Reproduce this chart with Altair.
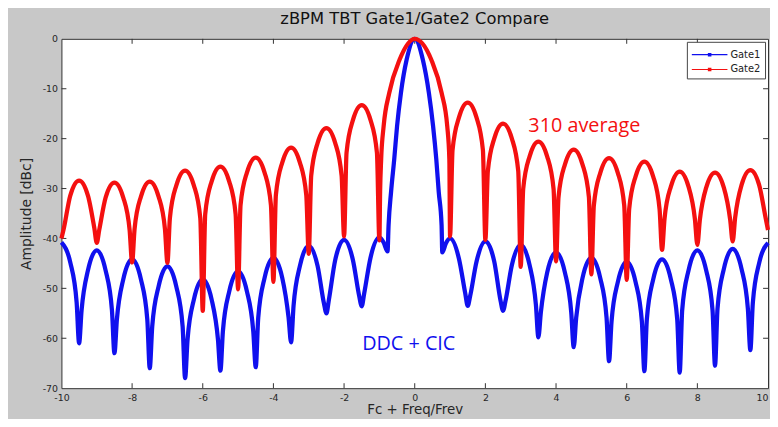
import altair as alt
import pandas as pd

# ---------------- data ----------------
gate2_x = [-10, -9.93, -9.75, -9.5, -9.25, -9.07,
           -9, -8.93, -8.75, -8.5, -8.25, -8.07,
           -8, -7.93, -7.75, -7.5, -7.25, -7.07,
           -7, -6.93, -6.75, -6.5, -6.25, -6.07,
           -6, -5.93, -5.75, -5.5, -5.25, -5.07,
           -5, -4.93, -4.75, -4.5, -4.25, -4.07,
           -4, -3.93, -3.75, -3.5, -3.25, -3.07,
           -3, -2.93, -2.75, -2.5, -2.25, -2.07,
           -2, -1.93, -1.75, -1.5, -1.25, -1.07,
           -1, -0.98, -0.95, -0.88, -0.72, -0.43, 0, 0.47, 0.76, 0.92, 0.98,
           1, 1.07, 1.25, 1.5, 1.75, 1.93,
           2, 2.07, 2.25, 2.5, 2.75, 2.93,
           3, 3.07, 3.25, 3.5, 3.75, 3.93,
           4, 4.07, 4.25, 4.5, 4.75, 4.93,
           5, 5.07, 5.25, 5.5, 5.75, 5.93,
           6, 6.07, 6.25, 6.5, 6.75, 6.93,
           7, 7.07, 7.25, 7.5, 7.75, 7.93,
           8, 8.07, 8.25, 8.5, 8.75, 8.93,
           9, 9.07, 9.25, 9.5, 9.75, 9.93,
           10]
gate2_y = [-40.0, -37.9, -31.4, -28.4, -31.4, -37.9,
           -40.9, -38.3, -31.8, -28.8, -31.8, -38.3,
           -44.8, -38.1, -31.6, -28.6, -31.6, -38.1,
           -44.9, -35.9, -29.4, -26.4, -29.4, -35.9,
           -54.5, -35.1, -28.6, -25.6, -28.6, -35.1,
           -50.2, -33.3, -26.8, -23.8, -26.8, -33.3,
           -48.7, -31.3, -24.8, -21.8, -24.8, -31.3,
           -43.1, -27.4, -20.9, -17.9, -20.9, -27.4,
           -39.6, -22.8, -16.3, -13.3, -16.3, -22.8,
           -40.4, -30.7, -24.1, -17.5, -10.8, -4.2, 0.0, -4.2, -10.8, -17.5, -24.1,
           -39.6, -22.3, -15.8, -12.8, -15.8, -22.3,
           -40.3, -26.5, -20.0, -17.0, -20.0, -26.5,
           -45.7, -30.1, -23.6, -20.6, -23.6, -30.1,
           -44.6, -31.7, -25.2, -22.2, -25.2, -31.7,
           -47.2, -33.4, -26.9, -23.9, -26.9, -33.4,
           -48.3, -34.1, -27.6, -24.6, -27.6, -34.1,
           -42.3, -36.1, -29.6, -26.6, -29.6, -36.1,
           -41.3, -36.3, -29.8, -26.8, -29.8, -36.3,
           -40.6, -35.8, -29.3, -26.3, -29.3, -35.8,
           -38.3]

gate1_x = [-10, -9.75, -9.57,
           -9.5, -9.43, -9.25, -9, -8.75, -8.57,
           -8.5, -8.43, -8.25, -8, -7.75, -7.57,
           -7.5, -7.43, -7.25, -7, -6.75, -6.57,
           -6.5, -6.43, -6.25, -6, -5.75, -5.57,
           -5.5, -5.43, -5.25, -5, -4.75, -4.57,
           -4.5, -4.43, -4.25, -4, -3.75, -3.57,
           -3.5, -3.43, -3.25, -3, -2.75, -2.57,
           -2.5, -2.43, -2.25, -2, -1.75, -1.57,
           -1.5, -1.43, -1.25, -1, -0.88,
           -0.77, -0.74, -0.67, -0.58, -0.5, -0.39, -0.23, 0, 0.23, 0.4, 0.52, 0.61, 0.68, 0.76,
           0.78, 0.88, 1, 1.25, 1.43,
           1.5, 1.57, 1.75, 2, 2.25, 2.43,
           2.5, 2.57, 2.75, 3, 3.25, 3.43,
           3.5, 3.57, 3.75, 4, 4.25, 4.43,
           4.5, 4.57, 4.75, 5, 5.25, 5.43,
           5.5, 5.57, 5.75, 6, 6.25, 6.43,
           6.5, 6.57, 6.75, 7, 7.25, 7.43,
           7.5, 7.57, 7.75, 8, 8.25, 8.43,
           8.5, 8.57, 8.75, 9, 9.25, 9.43,
           9.5, 9.57, 9.75, 10]
gate1_y = [-40.8, -44.8, -52.8,
           -61.0, -54.4, -46.4, -42.4, -46.4, -54.4,
           -63.0, -56.2, -48.2, -44.2, -48.2, -56.2,
           -66.0, -57.6, -49.6, -45.6, -49.6, -57.6,
           -68.0, -60.2, -52.2, -48.2, -52.2, -60.2,
           -66.5, -58.6, -50.6, -46.6, -50.6, -58.6,
           -65.8, -55.9, -47.9, -43.9, -47.9, -55.9,
           -60.8, -53.5, -45.5, -41.5, -45.5, -53.0,
           -55.0, -52.3, -44.3, -40.3, -44.3, -51.6,
           -53.6, -51.0, -43.8, -39.8, -40.8,
           -42.6, -37.3, -30.7, -24.1, -17.5, -10.8, -4.2, 0.0, -4.2, -10.8, -17.5, -24.1, -30.7, -37.3,
           -42.8, -41.0, -40.0, -44.0, -51.0,
           -53.5, -51.5, -44.6, -40.6, -44.6, -52.5,
           -54.5, -52.5, -45.3, -41.3, -45.3, -53.3,
           -59.8, -54.8, -46.8, -42.8, -46.8, -54.8,
           -61.8, -55.9, -47.9, -43.9, -47.9, -55.9,
           -64.6, -56.7, -48.7, -44.7, -48.7, -56.7,
           -66.6, -56.2, -48.2, -44.2, -48.2, -56.2,
           -66.9, -54.4, -46.4, -42.4, -46.4, -54.4,
           -65.5, -54.1, -46.1, -42.1, -46.1, -54.1,
           -62.4, -52.9, -44.9, -40.9]

series_names = ["Gate1", "Gate2"]
series_colors = ["#1010ee", "#f41010"]

x_ticks = [-10, -8, -6, -4, -2, 0, 2, 4, 6, 8, 10]
y_ticks = [0, -10, -20, -30, -40, -50, -60, -70]
x_inner_ticks = [-8, -6, -4, -2, 0, 2, 4, 6, 8]
y_inner_ticks = [-10, -20, -30, -40, -50, -60]

note_text = ["310 average", "DDC + CIC"]
note_x = [4.8, -0.17]
note_y = [-17.4, -61.1]

# ---------------- build chart ----------------
W, H = 714, 353
FONT = "DejaVu Sans"

df1 = pd.DataFrame({"x": gate1_x, "y": gate1_y, "series": "Gate1"})
df2 = pd.DataFrame({"x": gate2_x, "y": gate2_y, "series": "Gate2"})

xscale = alt.Scale(domain=[-10, 10], nice=False, zero=False)
yscale = alt.Scale(domain=[-70, 0], nice=False, zero=False)

xaxis = alt.Axis(values=x_ticks, labelExpr="'' + datum.value", ticks=False, domain=False,
                 grid=False, labelFontSize=9.5, labelPadding=4, labelFlush=False,
                 labelAlign=alt.condition("datum.value == 10", alt.value("right"),
                                          alt.value("center")),
                 title="Fc + Freq/Frev", titleFontSize=13.5, titleBaseline="alphabetic",
                 titleY=25.5)
yaxis = alt.Axis(values=y_ticks, labelExpr="'' + datum.value", ticks=False, domain=False,
                 grid=False, labelFontSize=9.5, labelPadding=4,
                 title="Amplitude [dBc]", titleFontSize=14, titlePadding=9)

# line-with-dot legend symbol, like the MATLAB legend
legend_symbol = "M-2.25,0H2.25M-0.15,-0.15h0.3v0.3h-0.3z"

color = alt.Color("series:N",
                  scale=alt.Scale(domain=series_names, range=series_colors),
                  legend=alt.Legend(title=None, orient="top-right", offset=3,
                                    symbolType=legend_symbol, symbolSize=256,
                                    symbolStrokeWidth=1.2, symbolOffset=10,
                                    labelFont=FONT, labelFontSize=10,
                                    labelColor="#222222", labelOffset=12,
                                    strokeColor="#444444", fillColor="white",
                                    padding=4, rowPadding=1, cornerRadius=0))

line1 = alt.Chart(df1).mark_line(interpolate="monotone", strokeWidth=4.3).encode(
    x=alt.X("x:Q", scale=xscale, axis=xaxis),
    y=alt.Y("y:Q", scale=yscale, axis=yaxis),
    color=color,
)
line2 = alt.Chart(df2).mark_line(interpolate="monotone", strokeWidth=4.3).encode(
    x=alt.X("x:Q", scale=xscale),
    y=alt.Y("y:Q", scale=yscale),
    color=color,
)

notes = pd.DataFrame({"x": note_x, "y": note_y, "t": note_text, "c": series_colors[::-1]})
note_layer = alt.Chart(notes).mark_text(font="Open Sans", fontSize=20, align="center",
                                        baseline="middle").encode(
    x="x:Q", y="y:Q", text="t:N", color=alt.Color("c:N", scale=None))

tick_color = "#333333"
xt = pd.DataFrame({"v": x_inner_ticks})
yt = pd.DataFrame({"v": y_inner_ticks})
top_ticks = alt.Chart(xt).mark_rule(color=tick_color, strokeWidth=1).encode(
    x="v:Q", y=alt.value(0), y2=alt.value(5))
bottom_ticks = alt.Chart(xt).mark_rule(color=tick_color, strokeWidth=1).encode(
    x="v:Q", y=alt.value(H), y2=alt.value(H - 5))
left_ticks = alt.Chart(yt).mark_rule(color=tick_color, strokeWidth=1).encode(
    y="v:Q", x=alt.value(0), x2=alt.value(5))
right_ticks = alt.Chart(yt).mark_rule(color=tick_color, strokeWidth=1).encode(
    y="v:Q", x=alt.value(W), x2=alt.value(W - 5))

chart = alt.layer(
    top_ticks, bottom_ticks, left_ticks, right_ticks, line1, line2, note_layer
).properties(
    width=W, height=H,
    title=alt.TitleParams("zBPM TBT Gate1/Gate2 Compare", font=FONT, fontSize=16.5,
                          fontWeight="normal", color="#111111", offset=3),
    background="#c8c8c8",
    padding={"left": 54, "top": 29, "right": 2, "bottom": 29},
    autosize="none",
).configure_view(
    fill="white", stroke="#333333", strokeWidth=1
).configure_axis(
    labelFont=FONT, titleFont=FONT, labelColor="#262626", titleColor="#262626",
    titleFontWeight="normal"
)

chart.save("out.html", embed_options={"renderer": "svg", "actions": False})
